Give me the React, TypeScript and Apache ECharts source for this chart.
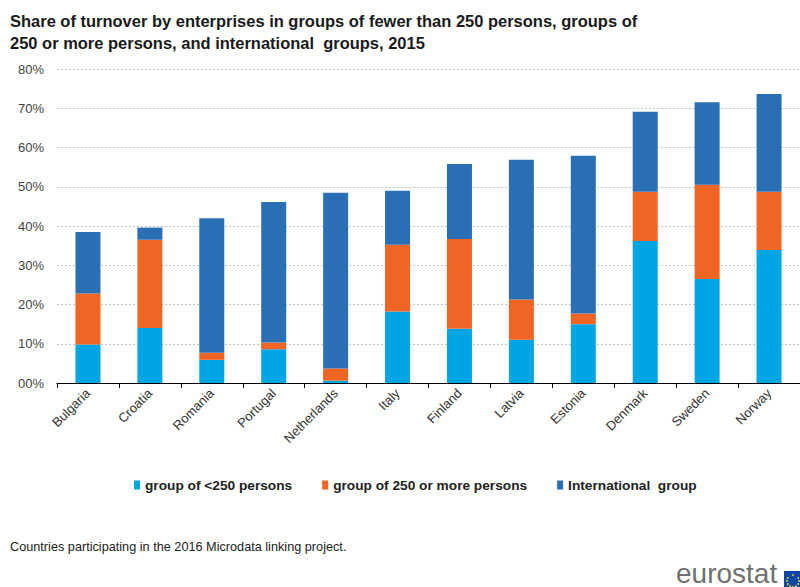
import React, { useEffect, useRef } from "react";
import * as echarts from "echarts";

const countries = [
  "Bulgaria", "Croatia", "Romania", "Portugal", "Netherlands", "Italy",
  "Finland", "Latvia", "Estonia", "Denmark", "Sweden", "Norway",
];
const seriesNames = [
  "group of <250 persons",
  "group of 250 or more persons",
  "International  group",
];
// Shares of turnover (%) per country, stacked in this order
const smallGroups = [9.8, 14.0, 5.9, 8.6, 0.6, 18.2, 13.8, 11.0, 15.0, 36.2, 26.5, 33.9];
const largeGroups = [13.0, 22.5, 1.8, 1.7, 3.1, 17.0, 22.9, 10.3, 2.7, 12.5, 24.0, 14.8];
const internationalGroups = [15.7, 3.1, 34.3, 35.8, 44.8, 13.8, 19.1, 35.6, 40.2, 20.4, 21.0, 24.9];
const yTicks = [0, 10, 20, 30, 40, 50, 60, 70, 80];

const titleLines = [
  "Share of turnover by enterprises in groups of fewer than 250 persons, groups of",
  "250 or more persons, and international  groups, 2015",
];
const footnote = "Countries participating in the 2016 Microdata linking project.";

const colors = ["#00a5e3", "#f06524", "#2a6eb4"];
const FONT = "'Liberation Sans', Arial, sans-serif";

export default function App() {
  const ref = useRef<HTMLDivElement>(null);

  useEffect(() => {
    if (!ref.current) return;
    const chart = echarts.init(ref.current, null, { renderer: "svg" });

    // ring of stars on the EU flag
    const stars: any[] = [];
    for (let i = 0; i < 12; i++) {
      const a = (i / 12) * Math.PI * 2;
      stars.push({
        type: "circle",
        shape: { cx: 793 + Math.cos(a) * 6, cy: 581 + Math.sin(a) * 6, r: 0.9 },
        style: { fill: "#ffdd00" },
        silent: true,
      });
    }

    const data = [smallGroups, largeGroups, internationalGroups];

    chart.setOption({
      animation: false,
      textStyle: { fontFamily: FONT },
      grid: { left: 57, top: 69, width: 752, height: 314, containLabel: false },
      legend: {
        left: 129,
        top: 473,
        itemWidth: 6,
        itemHeight: 9,
        itemGap: 30,
        icon: "rect",
        textStyle: { fontFamily: FONT, fontSize: 13.7, fontWeight: "bold", color: "#222" },
        data: seriesNames,
      },
      xAxis: {
        type: "category",
        data: countries,
        boundaryGap: true,
        axisLine: { show: true, lineStyle: { color: "#000", width: 1 } },
        axisTick: { show: true, length: 5, interval: 0, lineStyle: { color: "#000" } },
        axisLabel: {
          interval: 0,
          rotate: 45,
          margin: 8,
          fontFamily: FONT,
          fontSize: 13,
          color: "#333",
        },
      },
      yAxis: {
        type: "value",
        min: yTicks[0],
        max: yTicks[yTicks.length - 1],
        interval: 10,
        axisLine: { show: false },
        axisTick: { show: false },
        axisLabel: {
          margin: 13,
          fontFamily: FONT,
          fontSize: 13,
          color: "#444",
          formatter: (v: number) => (v === 0 ? "00%" : `${v}%`),
        },
        splitLine: { show: true, lineStyle: { color: "#c4c4c4", type: [2, 2], width: 1 } },
      },
      series: seriesNames.map((name, i) => ({
        name,
        type: "bar",
        stack: "total",
        barWidth: 25,
        itemStyle: { color: colors[i] },
        data: data[i],
      })),
      graphic: [
        {
          type: "text",
          x: 10,
          y: 10,
          scaleX: 0.97,
          style: {
            text: titleLines.join("\n"),
            font: `bold 17px ${FONT}`,
            lineHeight: 22,
            fill: "#1a1a1a",
            verticalAlign: "top",
          },
        },
        {
          type: "text",
          left: 10,
          top: 540,
          style: { text: footnote, font: `12.7px ${FONT}`, fill: "#222" },
        },
        {
          type: "text",
          x: 676,
          y: 587,
          style: {
            text: "eurostat",
            font: `28px ${FONT}`,
            fill: "#707070",
            verticalAlign: "bottom",
          },
        },
        {
          type: "rect",
          shape: { x: 784, y: 571, width: 20, height: 20 },
          style: { fill: "#0d47a8" },
        },
        ...stars,
      ],
    });

    return () => chart.dispose();
  }, []);

  return (
    <div
      ref={ref}
      style={{ position: "absolute", left: 0, top: 0, width: 800, height: 587, background: "#fff" }}
    />
  );
}
